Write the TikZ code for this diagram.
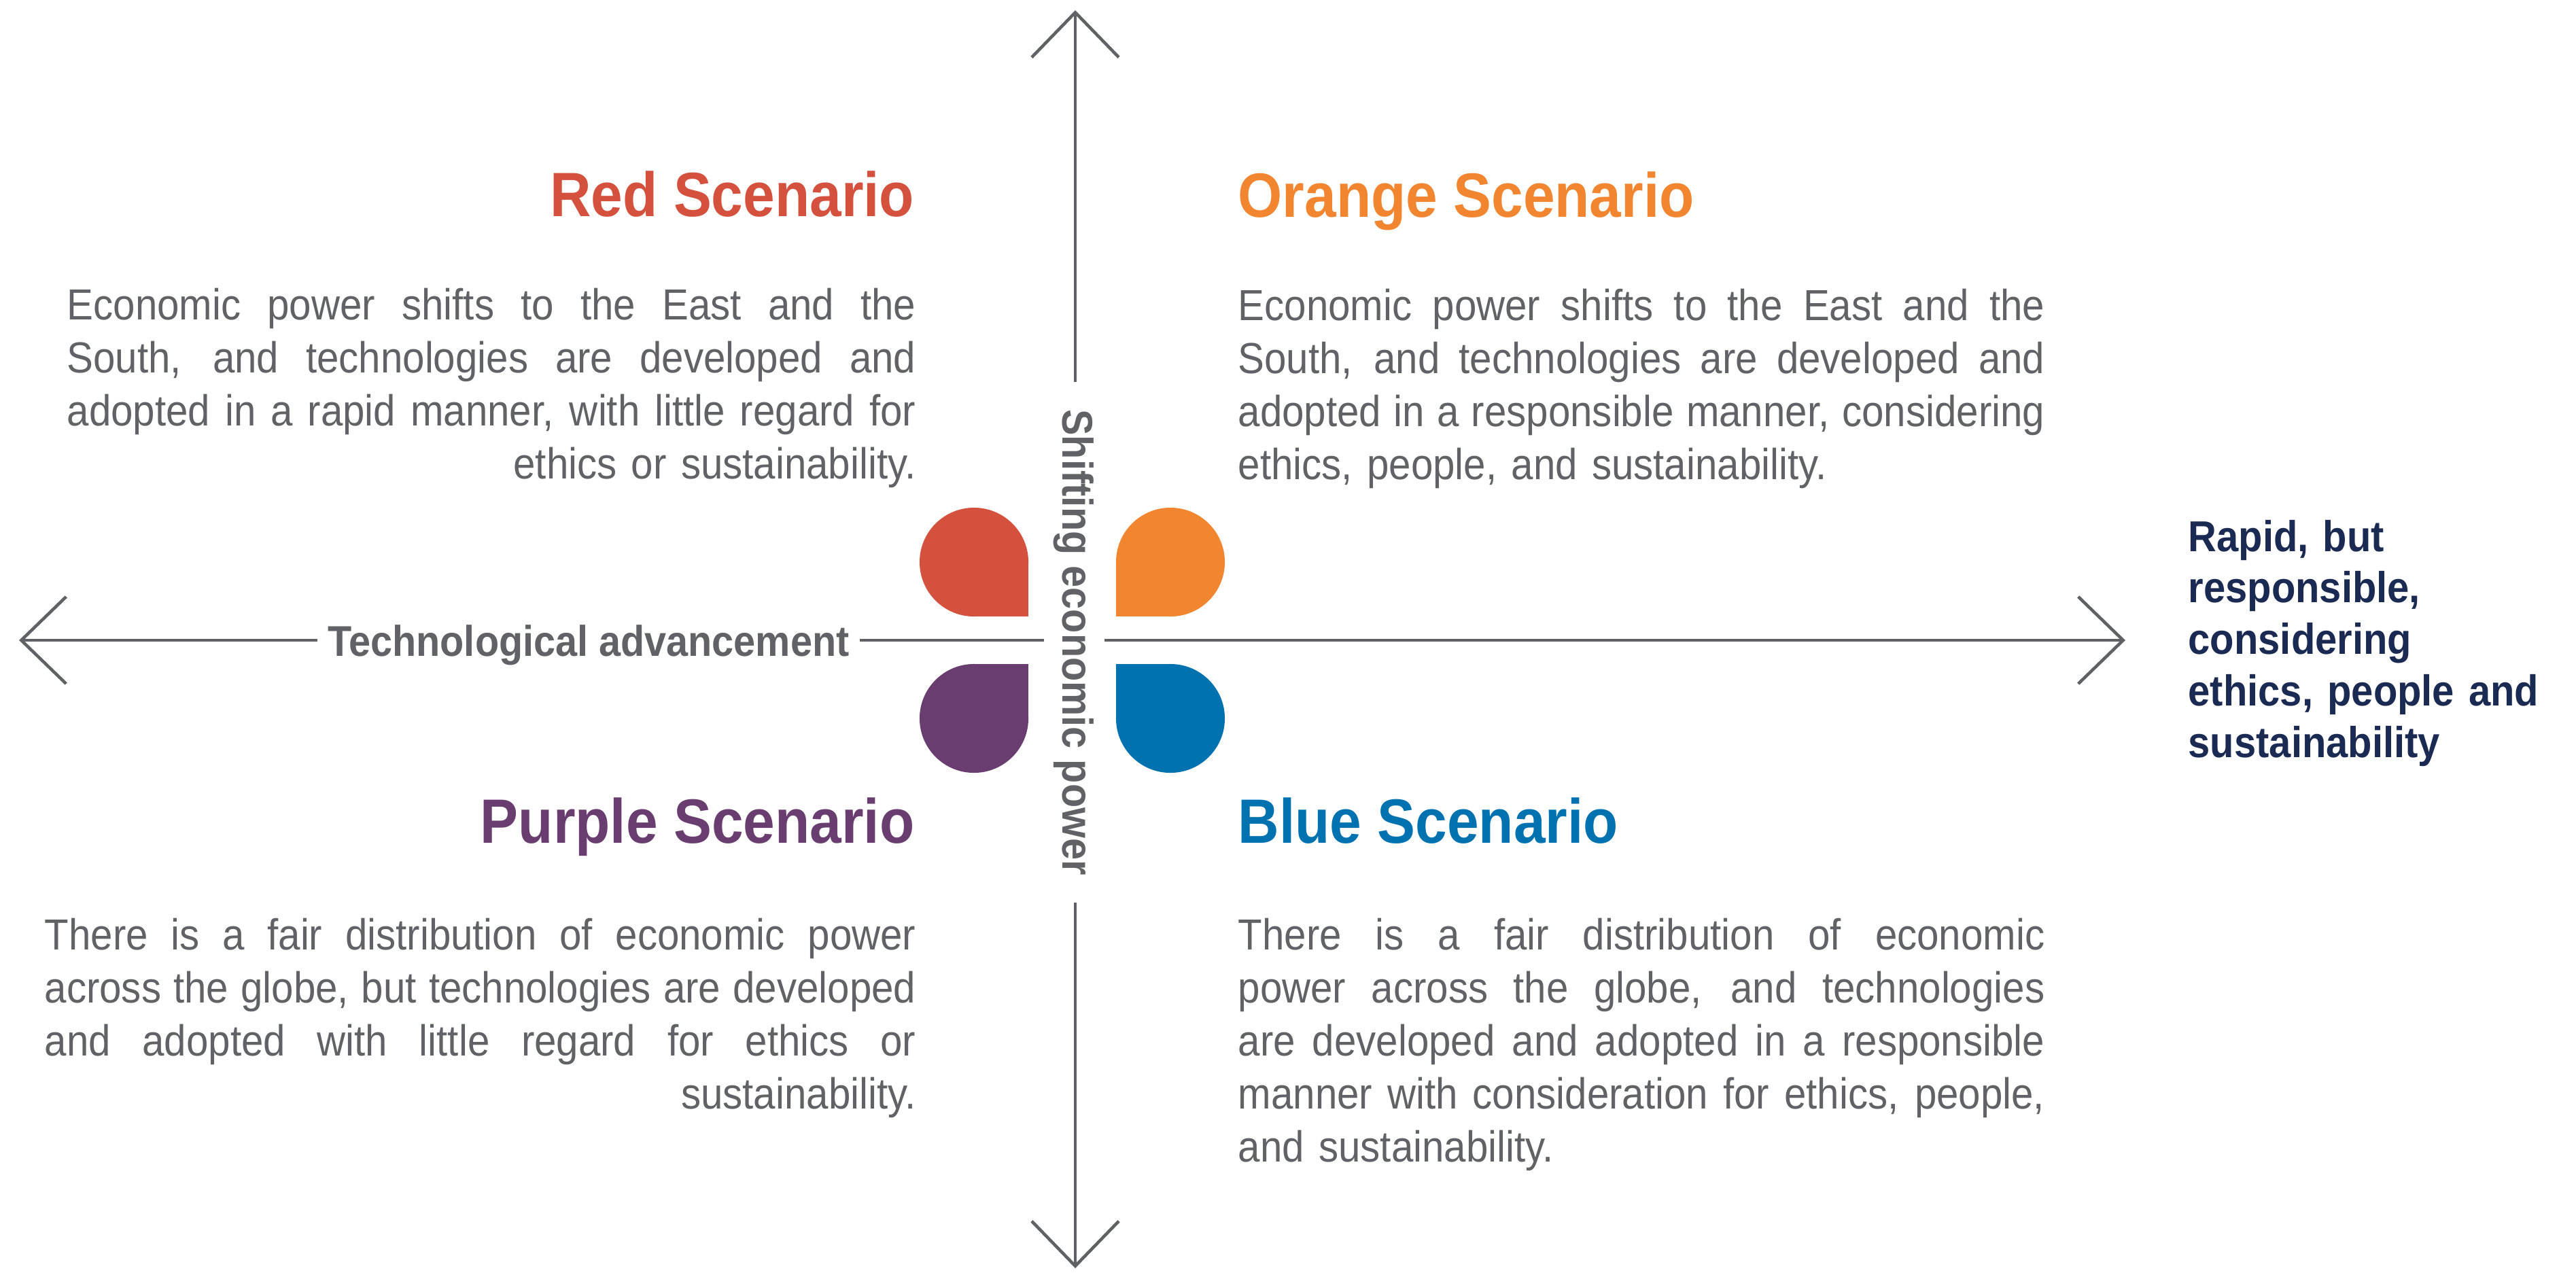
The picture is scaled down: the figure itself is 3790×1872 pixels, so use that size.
\documentclass[tikz,border=0pt]{standalone}
\usepackage{fontspec}
\setmainfont{Liberation Sans}[FakeStretch=0.91]
\usetikzlibrary{arrows.meta}
\definecolor{axisgray}{RGB}{96,97,100}
\definecolor{textgray}{RGB}{97,98,101}
\definecolor{navy}{RGB}{27,42,82}
\definecolor{scred}{RGB}{212,81,62}
\definecolor{scorange}{RGB}{242,134,48}
\definecolor{scpurple}{RGB}{106,61,112}
\definecolor{scblue}{RGB}{0,114,176}
\newcommand{\fullline}[1]{\makebox[\hsize][s]{\spaceskip=0.25em plus 1em minus 0.1em\relax #1}}
\tikzset{
  axisline/.style={axisgray,line width=1.3pt},
  axisarrow/.style={-{Straight Barb[length=0.66cm,width=1.28cm]}},
  heading/.style={font=\fontsize{26.2pt}{30pt}\selectfont\bfseries,inner sep=0pt},
  bodytext/.style={text=textgray,font=\fontsize{18.2pt}{22.2pt}\selectfont,inner sep=0pt},
  axislabel/.style={text=textgray,font=\fontsize{18pt}{22pt}\selectfont\bfseries,inner ysep=0pt}
}
\begin{document}
\begin{tikzpicture}[x=0.01cm,y=-0.01cm]
\useasboundingbox (0,0) rectangle (3790,1872);
% the four petals in the middle
\fill[scred] (1433,827) circle[radius=0.8cm];
\fill[scred] (1433,827) rectangle (1513,907);
\fill[scorange] (1722,827) circle[radius=0.8cm];
\fill[scorange] (1642,827) rectangle (1722,907);
\fill[scpurple] (1433,1057) circle[radius=0.8cm];
\fill[scpurple] (1433,977) rectangle (1513,1057);
\fill[scblue] (1722,1057) circle[radius=0.8cm];
\fill[scblue] (1642,977) rectangle (1722,1057);
% axis labels
\node[axislabel,inner xsep=0.15cm,anchor=base] (techlab) at (866,965) {Technological advancement};
\node[axislabel,inner xsep=0.4cm,anchor=base,rotate=-90] (econlab) at (1563,945) {Shifting economic power};
\coordinate (lefttip) at (28,942);
\coordinate (righttip) at (3127,942);
\coordinate (toptip) at (1582,15);
\coordinate (bottomtip) at (1582,1866);
\coordinate (hubleft) at (1536,942);
\coordinate (hubright) at (1625,942);
\draw[axisline,axisarrow] (techlab.west |- lefttip) -- (lefttip);
\draw[axisline] (techlab.east |- lefttip) -- (hubleft);
\draw[axisline,axisarrow] (hubright) -- (righttip);
\draw[axisline,axisarrow] (toptip |- econlab.west) -- (toptip);
\draw[axisline,axisarrow] (toptip |- econlab.east) -- (bottomtip);
% scenarios
\node[heading,text=scred,anchor=base east] (redhead) at (1346,318) {Red Scenario};
\node[bodytext,text width=12.48cm,align=right,anchor=base west] (redtext) at (98,470)
  {\fullline{Economic power shifts to the East and the}\\
   \fullline{South, and technologies are developed and}\\
   \fullline{adopted in a rapid manner, with little regard for}\\
   ethics or sustainability.};
\node[heading,text=scorange,anchor=base west] (orangehead) at (1821,319) {Orange Scenario};
\node[bodytext,text width=11.86cm,align=left,anchor=base west] (orangetext) at (1821,471)
  {\fullline{Economic power shifts to the East and the}\\
   \fullline{South, and technologies are developed and}\\
   \fullline{adopted in a responsible manner, considering}\\
   ethics, people, and sustainability.};
\node[heading,text=scpurple,anchor=base east] (purplehead) at (1346,1240) {Purple Scenario};
\node[bodytext,text width=12.81cm,align=right,anchor=base west] (purpletext) at (65,1397)
  {\fullline{There is a fair distribution of economic power}\\
   \fullline{across the globe, but technologies are developed}\\
   \fullline{and adopted with little regard for ethics or}\\
   sustainability.};
\node[heading,text=scblue,anchor=base west] (bluehead) at (1821,1240) {Blue Scenario};
\node[bodytext,text width=11.86cm,align=left,anchor=base west] (bluetext) at (1821,1397)
  {\fullline{There is a fair distribution of economic}\\
   \fullline{power across the globe, and technologies}\\
   \fullline{are developed and adopted in a responsible}\\
   \fullline{manner with consideration for ethics, people,}\\
   and sustainability.};
% outcome on the right
\node[text=navy,font=\fontsize{18.1pt}{21.6pt}\selectfont\bfseries,inner sep=0pt,text width=5.5cm,align=left,anchor=base west] (outcome) at (3219,811)
  {Rapid, but\\ responsible,\\ considering\\ ethics, people and\\ sustainability};
\end{tikzpicture}
\end{document}
